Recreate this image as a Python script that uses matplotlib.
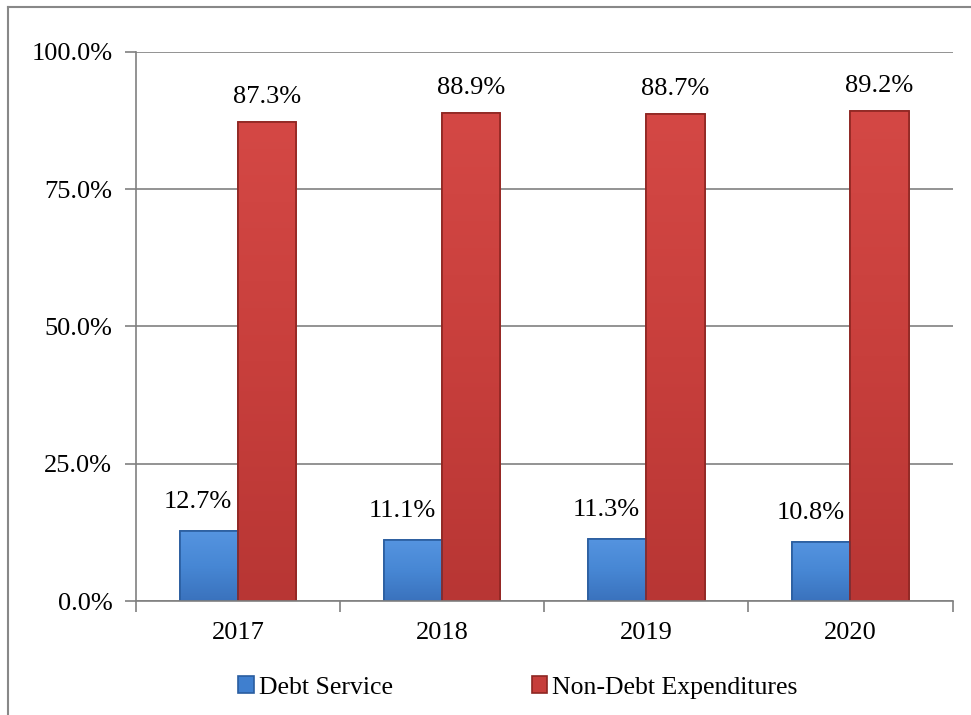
import matplotlib.pyplot as plt
import numpy as np
from matplotlib.lines import Line2D
from matplotlib.colors import LinearSegmentedColormap

years = ["2017", "2018", "2019", "2020"]
debt_service = [12.7, 11.1, 11.3, 10.8]
non_debt = [87.3, 88.9, 88.7, 89.2]
series_names = ["Debt Service", "Non-Debt Expenditures"]

plt.rcParams['font.family'] = ['Liberation Serif', 'DejaVu Serif']

fig = plt.figure(figsize=(9.71, 7.15), dpi=100)
ax = fig.add_axes([0.140, 0.1594, 0.841, 0.768])

x = np.arange(len(years))
w = 0.285
blue, blue_edge = "#3f7fcf", "#2a5d9f"
red, red_edge = "#c63e3b", "#8e2622"
blue_cmap = LinearSegmentedColormap.from_list("b", ["#3a72bd", "#4787d4", "#5594e0"])
red_cmap = LinearSegmentedColormap.from_list("r", ["#b83634", "#c83f3c", "#d44845"])

b1 = ax.bar(x - w / 2, debt_service, w, color=blue, edgecolor=blue_edge,
            linewidth=1.2, label=series_names[0], zorder=3)
b2 = ax.bar(x + w / 2, non_debt, w, color=red, edgecolor=red_edge,
            linewidth=1.2, label=series_names[1], zorder=3)

# vertical gradient fill, a bit lighter at the top
grad = np.linspace(0, 1, 256).reshape(-1, 1)
for bars, cmap in ((b1, blue_cmap), (b2, red_cmap)):
    for rect in bars:
        x0, h = rect.get_x(), rect.get_height()
        im = ax.imshow(grad, cmap=cmap, aspect="auto", origin="lower",
                       extent=(x0, x0 + rect.get_width(), 0, h), zorder=3.5)
        im.set_clip_path(rect)
        ax.bar(x0, h, rect.get_width(), align="edge", fill=False,
               edgecolor=rect.get_edgecolor(), linewidth=1.2, zorder=4)

for bars, vals, dx, dy in ((b1, debt_service, -8, 21), (b2, non_debt, 0, 18)):
    for rect, v in zip(bars, vals):
        ax.annotate(f"{v:.1f}%", (rect.get_x() + rect.get_width() / 2, v),
                    xytext=(dx, dy), textcoords="offset points",
                    ha="center", va="center", fontsize=19)

ax.set_xlim(-0.5, len(years) - 0.5)
ax.set_ylim(0, 100)
ax.set_yticks([0, 25, 50, 75, 100])
ax.set_yticklabels([f"{t:.1f}%" for t in [0, 25, 50, 75, 100]], fontsize=19)
ax.set_xticks(x)
ax.set_xticklabels(years, fontsize=19)
ax.tick_params(axis="x", length=0, pad=15)
ax.set_xticks(np.arange(-0.5, len(years)), minor=True)
ax.tick_params(axis="x", which="minor", length=8, color="#808080", width=1.2)
ax.tick_params(axis="y", length=8, color="#808080", width=1.2, pad=9)

ax.yaxis.grid(True, color="#808080", linewidth=1.2, zorder=0)
ax.set_axisbelow(True)
for side in ("top", "right"):
    ax.spines[side].set_visible(False)
for side in ("left", "bottom"):
    ax.spines[side].set_color("#808080")
    ax.spines[side].set_linewidth(1.2)
    ax.spines[side].set_zorder(5)

ax.legend(loc="upper center", bbox_to_anchor=(0.468, -0.095), ncol=2,
          frameon=False, fontsize=18.5, handlelength=0.6, handleheight=0.6,
          handletextpad=0.2, columnspacing=5.4)

# outer chart border (right/bottom edges fall outside the image)
fig.add_artist(Line2D([0.0082, 0.0082], [0, 0.990], color="#888888", lw=1.5))
fig.add_artist(Line2D([0.0082, 1.0], [0.990, 0.990], color="#888888", lw=1.5))

fig.savefig("out.png", dpi=100)
